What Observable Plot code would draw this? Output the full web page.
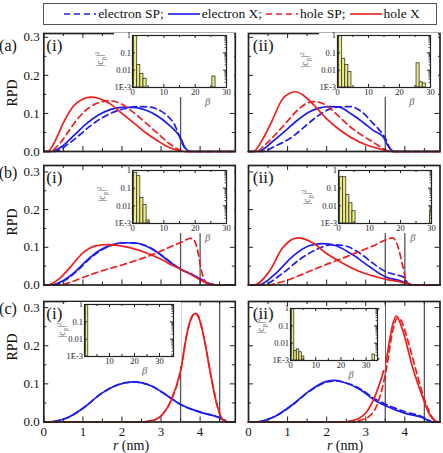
<!DOCTYPE html>
<html>
<head>
<meta charset="utf-8">
<script src="https://cdn.jsdelivr.net/npm/d3@7"></script>
<script src="https://cdn.jsdelivr.net/npm/@observablehq/plot@0.6"></script>
<style>
  body { margin: 0; background: #fff; }
  #chart { position: relative; width: 443px; height: 453px; overflow: hidden;
           font-family: serif; color: #111; }
  .lbl { position: absolute; white-space: nowrap; line-height: 1; }
  #legend { position: absolute; left: 43px; top: 3px; width: 392px; height: 20px;
            border: 1.5px solid #555; display: flex; align-items: center; justify-content: center;
            font-size: 13.5px; }
  #legend .item { display: flex; align-items: center; }
  #legend svg { display: block; margin: 0 2px 0 4px; }
</style>
</head>
<body>
<div id="chart"><div id="legend"></div></div>
<script>
// ---------------- series legend ----------------
const seriesNames  = ["electron SP;", "electron X;", "hole SP;", "hole X"];
const seriesColors = ["#1c1cf0", "#1c1cf0", "#f01c1c", "#f01c1c"];
const seriesDashes = ["6,4", null, "6,4", null];

// ---------------- axis ticks ----------------
const rMajor = [0, 1, 2, 3, 4];
const rMinor = [0.5, 1.5, 2.5, 3.5, 4.5];
const rpdMajor = [0, 0.1, 0.2, 0.3];
const rpdMinor = [0.05, 0.15, 0.25];
const cMajor = [1e-3, 1e-2, 1e-1, 1];
const cMajorLabels = ["1E-3", "0.01", "0.1", "1"];
const cMinor = [2e-3,3e-3,4e-3,5e-3,6e-3,7e-3,8e-3,9e-3,2e-2,3e-2,4e-2,5e-2,6e-2,7e-2,8e-2,9e-2,0.2,0.3,0.4,0.5,0.6,0.7,0.8,0.9];
const betaMajor = [0, 10, 20, 30];
const betaMinor = [5, 15, 25];
const betaMinorWide = [5, 15, 25, 35];

// ---------------- radial probability densities [r (nm), RPD] ----------------
// (a)(i)
const aI_electronSP = [[0,0],[0.3,0],[0.6,0.018],[0.9,0.042],[1.2,0.068],[1.5,0.089],[1.8,0.104],[2.1,0.113],[2.4,0.118],[2.7,0.117],[3.0,0.106],[3.2,0.09],[3.35,0.07],[3.45,0.045],[3.55,0.02],[3.65,0.004],[3.75,0],[4.9,0]];
const aI_electronX  = [[0,0],[0.2,0],[0.5,0.016],[0.8,0.045],[1.1,0.074],[1.4,0.096],[1.7,0.11],[2.0,0.116],[2.3,0.116],[2.6,0.109],[2.9,0.094],[3.2,0.07],[3.4,0.05],[3.5,0.036],[3.6,0.012],[3.7,0.002],[3.8,0],[4.9,0]];
const aI_holeSP     = [[0,0],[0.15,0],[0.4,0.02],[0.6,0.048],[0.9,0.09],[1.2,0.118],[1.5,0.131],[1.7,0.133],[2.0,0.124],[2.3,0.102],[2.6,0.076],[2.9,0.049],[3.2,0.022],[3.45,0.005],[3.6,0],[4.9,0]];
const aI_holeX      = [[0,0],[0.1,0],[0.3,0.03],[0.5,0.075],[0.75,0.118],[1.0,0.138],[1.2,0.143],[1.4,0.14],[1.7,0.125],[2.0,0.1],[2.3,0.075],[2.6,0.05],[2.9,0.029],[3.2,0.011],[3.45,0.002],[3.6,0],[4.9,0]];
// (a)(ii)
const aII_electronSP = [[0,0],[0.35,0],[0.7,0.015],[1.1,0.037],[1.4,0.062],[1.7,0.088],[2.0,0.108],[2.3,0.117],[2.6,0.118],[2.9,0.104],[3.15,0.078],[3.4,0.05],[3.5,0.035],[3.6,0.012],[3.7,0],[4.9,0]];
const aII_electronX  = [[0,0],[0.25,0],[0.6,0.025],[0.95,0.055],[1.25,0.082],[1.55,0.104],[1.8,0.114],[2.05,0.118],[2.3,0.117],[2.65,0.097],[2.95,0.075],[3.2,0.055],[3.45,0.038],[3.55,0.018],[3.65,0.004],[3.75,0],[4.9,0]];
const aII_holeSP     = [[0,0],[0.2,0],[0.45,0.02],[0.7,0.046],[1.0,0.08],[1.3,0.113],[1.5,0.127],[1.7,0.131],[1.9,0.126],[2.2,0.103],[2.6,0.065],[2.9,0.043],[3.2,0.024],[3.45,0.007],[3.6,0],[4.9,0]];
const aII_holeX      = [[0,0],[0.12,0],[0.35,0.03],[0.6,0.08],[0.85,0.135],[1.05,0.153],[1.2,0.157],[1.4,0.148],[1.6,0.13],[2.0,0.086],[2.4,0.052],[2.8,0.027],[3.2,0.011],[3.5,0.003],[3.65,0],[4.9,0]];
// (b)(i)
const bI_electronSP = [[0,0],[0.25,0],[0.6,0.016],[0.9,0.042],[1.2,0.072],[1.5,0.094],[1.8,0.107],[2.1,0.112],[2.4,0.11],[2.7,0.1],[3.0,0.08],[3.3,0.056],[3.5,0.042],[3.8,0.028],[4.0,0.017],[4.2,0.005],[4.4,0],[4.9,0]];
const bI_electronX  = [[0,0],[0.2,0],[0.5,0.012],[0.8,0.035],[1.1,0.065],[1.4,0.09],[1.7,0.105],[2.0,0.112],[2.3,0.112],[2.6,0.104],[2.9,0.087],[3.2,0.063],[3.5,0.042],[3.8,0.027],[4.0,0.016],[4.2,0.005],[4.4,0],[4.9,0]];
const bI_holeSP     = [[0,0],[0.4,0],[0.7,0.008],[1.0,0.02],[1.5,0.038],[2.0,0.053],[2.5,0.07],[3.0,0.09],[3.3,0.104],[3.55,0.115],[3.75,0.124],[3.85,0.118],[3.95,0.085],[4.02,0.045],[4.1,0.015],[4.2,0.002],[4.3,0],[4.9,0]];
const bI_holeX      = [[0,0],[0.1,0],[0.4,0.017],[0.7,0.05],[1.0,0.085],[1.3,0.103],[1.6,0.107],[1.9,0.105],[2.2,0.099],[2.6,0.086],[3.0,0.068],[3.3,0.052],[3.5,0.042],[3.8,0.026],[4.0,0.014],[4.2,0.004],[4.4,0],[4.9,0]];
// (b)(ii)
const bII_electronSP = [[0,0],[0.35,0],[0.87,0.031],[1.3,0.067],[1.73,0.094],[2.15,0.107],[2.5,0.103],[2.84,0.085],[3.18,0.058],[3.5,0.036],[3.78,0.027],[3.95,0.022],[4.08,0.005],[4.2,0],[4.9,0]];
const bII_electronX  = [[0,0],[0.25,0],[0.7,0.031],[1.13,0.076],[1.55,0.104],[1.9,0.11],[2.24,0.104],[2.67,0.08],[3.09,0.049],[3.5,0.022],[3.86,0.012],[4.08,0.004],[4.25,0],[4.9,0]];
const bII_holeSP     = [[0,0],[0.5,0],[0.7,0.004],[1.13,0.018],[1.55,0.036],[1.98,0.054],[2.41,0.071],[2.84,0.089],[3.26,0.107],[3.52,0.12],[3.69,0.125],[3.82,0.103],[3.95,0.049],[4.03,0.013],[4.12,0],[4.9,0]];
const bII_holeX      = [[0,0],[0.14,0],[0.53,0.036],[0.87,0.098],[1.26,0.125],[1.64,0.112],[1.98,0.085],[2.41,0.058],[2.84,0.036],[3.26,0.022],[3.52,0.015],[3.86,0.009],[4.03,0.004],[4.2,0],[4.9,0]];
// (c)(i)
const cI_electronSP = [[0,0],[0.1,0],[0.6,0.011],[1.03,0.038],[1.45,0.073],[1.88,0.097],[2.3,0.105],[2.74,0.095],[3.16,0.069],[3.5,0.046],[4.0,0.026],[4.45,0.013],[4.6,0.006],[4.72,0],[4.9,0]];
const cI_electronX  = [[0,0],[0.1,0],[0.6,0.011],[1.03,0.038],[1.45,0.073],[1.88,0.097],[2.3,0.105],[2.74,0.095],[3.16,0.069],[3.5,0.046],[4.0,0.026],[4.45,0.013],[4.6,0.006],[4.72,0],[4.9,0]];
const cI_holeSP     = [[0,0],[2.5,0],[2.75,0.003],[3.0,0.016],[3.25,0.055],[3.5,0.134],[3.68,0.24],[3.8,0.278],[3.88,0.285],[3.95,0.278],[4.1,0.22],[4.27,0.125],[4.45,0.038],[4.57,0.007],[4.7,0],[4.9,0]];
const cI_holeX      = [[0,0],[2.5,0],[2.75,0.003],[3.0,0.016],[3.25,0.055],[3.5,0.134],[3.68,0.24],[3.8,0.278],[3.88,0.285],[3.95,0.278],[4.1,0.22],[4.27,0.125],[4.45,0.038],[4.57,0.007],[4.7,0],[4.9,0]];
// (c)(ii)
const cII_electronSP = [[0,0],[0.14,0],[0.7,0.016],[1.13,0.045],[1.55,0.08],[1.98,0.104],[2.2,0.108],[2.41,0.105],[2.84,0.088],[3.26,0.059],[3.52,0.046],[4.03,0.026],[4.46,0.013],[4.6,0.005],[4.72,0],[4.9,0]];
const cII_electronX  = [[0,0],[0.14,0],[0.7,0.016],[1.13,0.046],[1.55,0.081],[1.98,0.106],[2.2,0.109],[2.41,0.105],[2.84,0.086],[3.26,0.055],[3.52,0.042],[4.03,0.022],[4.46,0.011],[4.6,0.004],[4.72,0],[4.9,0]];
const cII_holeSP     = [[0,0],[2.5,0],[2.9,0.006],[3.1,0.016],[3.26,0.038],[3.52,0.134],[3.69,0.239],[3.82,0.274],[3.91,0.265],[4.08,0.213],[4.29,0.134],[4.5,0.06],[4.68,0.016],[4.8,0.002],[4.9,0]];
const cII_holeX      = [[0,0],[2.3,0],[2.67,0.004],[3.01,0.025],[3.26,0.073],[3.52,0.16],[3.69,0.256],[3.78,0.278],[3.95,0.239],[4.2,0.143],[4.46,0.064],[4.63,0.02],[4.8,0.002],[4.9,0]];

// shell boundaries (nm)
const aBoundaries = [3.5];
const bBoundaries = [3.5, 4.0];
const cBoundaries = [3.5, 4.5];

// ---------------- expansion weights |c_beta|^2 [beta, weight] ----------------
const aI_weights  = [[1,1],[2,0.02],[3,0.006],[4,0.0032],[26,0.0043]];
const aII_weights = [[1,1],[2,0.045],[3,0.02],[4,0.008],[26,0.025],[27,0.002],[28,0.0017]];
const bI_weights  = [[1,0.74],[2,0.48],[3,0.028],[4,0.011],[5,0.0015]];
const bII_weights = [[1,0.42],[2,0.42],[3,0.041],[4,0.014],[5,0.005],[30,0.005]];
const cI_weights  = [[1,1]];
const cII_weights = [[1,1],[2,0.0035],[3,0.0044],[4,0.003],[5,0.0017],[33,0.0022]];

// ---------------- layout ----------------
const chart = document.getElementById("chart");
const FONT = "serif";
const FW = 191.5;                       // frame width of a main panel
const colX = [43.3, 247.7];             // frame left of each column
const rows = [
  {top: 33,  h: 118,   yMax: 0.31},
  {top: 165, h: 119.5, yMax: 0.317},
  {top: 301, h: 120.5, yMax: 0.316}
];

function label(html, x, y, o = {}) {
  const d = document.createElement("div");
  d.className = "lbl";
  d.innerHTML = html;
  d.style.left = x + "px";
  d.style.top = y + "px";
  d.style.fontSize = (o.size || 13) + "px";
  d.style.color = o.color || "#111";
  if (o.italic) d.style.fontStyle = "italic";
  d.style.transform = "translate(-50%,-50%)" + (o.rotate ? ` rotate(${o.rotate}deg)` : "");
  chart.appendChild(d);
}

function place(el, left, top) {
  el.style.position = "absolute";
  el.style.left = left + "px";
  el.style.top = top + "px";
  chart.appendChild(el);
}

// legend
const legend = document.getElementById("legend");
seriesNames.forEach((name, i) => {
  const item = document.createElement("div");
  item.className = "item";
  const dash = seriesDashes[i] ? `stroke-dasharray="${seriesDashes[i]}"` : "";
  item.innerHTML = `<svg width="32" height="10"><line x1="0" x2="32" y1="5" y2="5" stroke="${seriesColors[i]}" stroke-width="1.6" ${dash}/></svg><span>${name}</span>`;
  legend.appendChild(item);
});

function mainPanel(rowIdx, colIdx, curves, boundaries) {
  const row = rows[rowIdx];
  const bottom = rowIdx === 2;
  const ml = colIdx === 0 ? colX[0] : 5, mr = 6, mt = 4, mb = bottom ? 24 : 4;
  const marks = [
    Plot.ruleX(boundaries, {stroke: "#555", strokeWidth: 1.3}),
    ...curves.map((c, i) => Plot.line(c, {
      x: d => d[0], y: d => d[1], stroke: seriesColors[i], strokeWidth: 1.7,
      strokeDasharray: seriesDashes[i] || undefined, curve: "monotone-x"
    })),
    Plot.tickX(rMajor, {x: d => d, insetTop: row.h - 5, stroke: "#222"}),
    Plot.tickX(rMajor, {x: d => d, insetBottom: row.h - 5, stroke: "#222"}),
    Plot.tickX(rMinor, {x: d => d, insetTop: row.h - 3, stroke: "#222"}),
    Plot.tickX(rMinor, {x: d => d, insetBottom: row.h - 3, stroke: "#222"}),
    Plot.tickY(rpdMajor, {y: d => d, insetRight: FW - 5, stroke: "#222"}),
    Plot.tickY(rpdMajor, {y: d => d, insetLeft: FW - 5, stroke: "#222"}),
    Plot.tickY(rpdMinor, {y: d => d, insetRight: FW - 3, stroke: "#222"}),
    Plot.tickY(rpdMinor, {y: d => d, insetLeft: FW - 3, stroke: "#222"}),
    Plot.frame({stroke: "#222", strokeWidth: 1.7})
  ];
  if (colIdx === 0) {
    marks.push(Plot.text(rpdMajor, {y: d => d, text: d => d.toFixed(1), frameAnchor: "left",
      textAnchor: "end", dx: -4, fontSize: 13, fill: "#111"}));
  }
  if (bottom) {
    marks.push(Plot.text(rMajor, {x: d => d, text: d => String(d), frameAnchor: "bottom",
      lineAnchor: "top", dy: 5, fontSize: 13, fill: "#111"}));
  }
  const svg = Plot.plot({
    width: ml + FW + mr, height: mt + row.h + mb,
    marginLeft: ml, marginRight: mr, marginTop: mt, marginBottom: mb,
    x: {domain: [0, 4.9], axis: null},
    y: {domain: [0, row.yMax], axis: null},
    style: {background: "transparent", overflow: "visible", fontFamily: FONT},
    marks
  });
  place(svg, colX[colIdx] - ml, row.top - mt);
}

function inset(g, weights) {
  const ml = 18, mr = 8, mt = 2, mb = 10;
  const xMinor = g.xMax > 32 ? betaMinorWide : betaMinor;
  const svg = Plot.plot({
    width: ml + g.w + mr, height: mt + g.h + mb,
    marginLeft: ml, marginRight: mr, marginTop: mt, marginBottom: mb,
    x: {domain: [0, g.xMax], axis: null},
    y: {type: "log", domain: [1e-3, 1], axis: null},
    style: {background: "white", overflow: "visible", fontFamily: FONT},
    marks: [
      Plot.rect(weights, {x1: d => d[0] - 0.5, x2: d => d[0] + 0.5, y1: 1e-3, y2: d => d[1],
        fill: "#eded80", stroke: "#333", strokeWidth: 0.8, clip: true}),
      Plot.tickX(betaMajor, {x: d => d, insetTop: g.h - 3, stroke: "#222"}),
      Plot.tickX(betaMajor, {x: d => d, insetBottom: g.h - 3, stroke: "#222"}),
      Plot.tickX(xMinor, {x: d => d, insetTop: g.h - 2, stroke: "#222"}),
      Plot.tickX(xMinor, {x: d => d, insetBottom: g.h - 2, stroke: "#222"}),
      Plot.tickY(cMajor, {y: d => d, insetRight: g.w - 3, stroke: "#222"}),
      Plot.tickY(cMajor, {y: d => d, insetLeft: g.w - 3, stroke: "#222"}),
      Plot.tickY(cMinor, {y: d => d, insetRight: g.w - 1.5, stroke: "#222", strokeWidth: 0.8}),
      Plot.tickY(cMinor, {y: d => d, insetLeft: g.w - 1.5, stroke: "#222", strokeWidth: 0.8}),
      Plot.frame({stroke: "#222", strokeWidth: 1.2}),
      Plot.text(cMajor, {y: d => d, text: (d, i) => cMajorLabels[i], frameAnchor: "left",
        textAnchor: "end", dx: -1.5, fontSize: 8.5, fill: "#222"}),
      Plot.text(g.xLabels, {x: d => d, text: d => String(d), frameAnchor: "bottom",
        lineAnchor: "top", dy: 1.5, fontSize: 8.5, fill: "#222"}),
      Plot.text(["β"], {x: 24, frameAnchor: "bottom", lineAnchor: "top", dy: 10,
        fontSize: 10.5, fontStyle: "italic", fill: "#666"})
    ]
  });
  place(svg, g.left - ml, g.top - mt);
  label("|c<sub style='font-size:0.75em'>β</sub>|<sup style='font-size:0.75em'>2</sup>",
        g.left + g.ldx, g.top + g.ldy, {size: 9.5, rotate: -90, color: "#666"});
}

// ---------------- draw ----------------
mainPanel(0, 0, [aI_electronSP, aI_electronX, aI_holeSP, aI_holeX], aBoundaries);
mainPanel(0, 1, [aII_electronSP, aII_electronX, aII_holeSP, aII_holeX], aBoundaries);
mainPanel(1, 0, [bI_electronSP, bI_electronX, bI_holeSP, bI_holeX], bBoundaries);
mainPanel(1, 1, [bII_electronSP, bII_electronX, bII_holeSP, bII_holeX], bBoundaries);
mainPanel(2, 0, [cI_electronSP, cI_electronX, cI_holeSP, cI_holeX], cBoundaries);
mainPanel(2, 1, [cII_electronSP, cII_electronX, cII_holeSP, cII_holeX], cBoundaries);

inset({left: 132, top: 35,  w: 94, h: 52, xMax: 30,   xLabels: betaMajor,    ldx: -31, ldy: 24}, aI_weights);
inset({left: 337, top: 35,  w: 93, h: 52, xMax: 30,   xLabels: betaMajor,    ldx: -31, ldy: 25}, aII_weights);
inset({left: 132, top: 170, w: 94, h: 53, xMax: 30,   xLabels: betaMajor,    ldx: -29, ldy: 24}, bI_weights);
inset({left: 338, top: 170, w: 93, h: 53, xMax: 30,   xLabels: betaMajor,    ldx: -30, ldy: 27}, bII_weights);
inset({left: 84,  top: 304, w: 89, h: 52, xMax: 35.6, xLabels: [10, 20, 30], ldx: -21, ldy: 26}, cI_weights);
inset({left: 290, top: 308, w: 87, h: 52, xMax: 34.5, xLabels: betaMajor,    ldx: -28, ldy: 18}, cII_weights);

// panel letters, sub-panel numerals, axis titles
["(a)", "(b)", "(c)"].forEach((t, i) => label(t, 8, [46, 173, 309][i], {size: 16}));
rows.forEach(row => {
  label("(i)", colX[0] + 11, row.top + 12, {size: 17});
  label("(ii)", colX[1] + 15.5, row.top + 12, {size: 17});
});
[93, 222, 347].forEach(y => label("RPD", 13, y, {size: 14, rotate: -90}));
label("<i>r</i> (nm)", 131, 446, {size: 14});
label("<i>r</i> (nm)", 345, 446, {size: 14});
</script>
</body>
</html>
